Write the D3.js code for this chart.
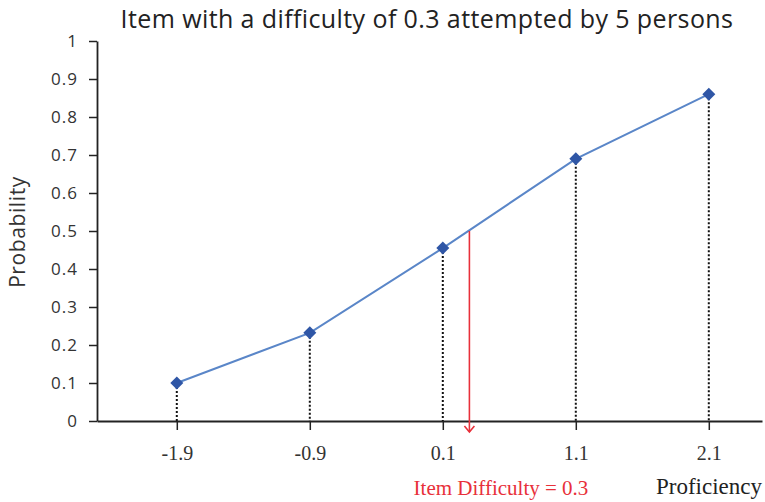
<!DOCTYPE html>
<html><head><meta charset="utf-8">
<script src="https://cdn.jsdelivr.net/npm/d3@7"></script>
<style>body{margin:0;background:#fff}svg{display:block}</style>
</head><body><svg id="c" width="765" height="502"></svg>
<script>
const proficiency = [-1.9, -0.9, 0.1, 1.1, 2.1];
const probability = [0.10, 0.232, 0.455, 0.69, 0.86];
const yTicks = [0,0.1,0.2,0.3,0.4,0.5,0.6,0.7,0.8,0.9,1];
const difficulty = 0.3;
const title = "Item with a difficulty of 0.3 attempted by 5 persons";

const svg = d3.select("#c");
const x = d3.scaleLinear().domain([-2.5, 2.5]).range([97, 762]);
const y = d3.scaleLinear().domain([0, 1]).range([421, 41]);

// y axis
const ya = svg.append("g").attr("transform","translate(97,0)")
  .call(d3.axisLeft(y).tickValues(yTicks).tickFormat(d=>d3.format("")(+d.toFixed(1))).tickSize(8).tickSizeOuter(0));
ya.select(".domain").attr("stroke","#222").attr("stroke-width",1.8);
ya.selectAll(".tick line").attr("stroke","#222").attr("stroke-width",1.5);
ya.selectAll(".tick text").attr("font-family","'Open Sans', sans-serif").attr("font-size",17)
  .attr("letter-spacing",1).attr("fill","#333").attr("x",-19);

// x axis
const xa = svg.append("g").attr("transform","translate(0,421)")
  .call(d3.axisBottom(x).tickValues(proficiency).tickFormat(d=>d.toFixed(1)).tickSize(9).tickSizeOuter(0));
xa.select(".domain").attr("stroke","#222").attr("stroke-width",1.8);
xa.selectAll(".tick line").attr("stroke","#222").attr("stroke-width",1.5);
xa.selectAll(".tick text").attr("font-family","'Liberation Serif', 'Times New Roman', serif").attr("font-size",20)
  .attr("fill","#333").attr("dy",null).attr("y",39);

// dotted drop lines
svg.append("g").selectAll("line").data(proficiency).join("line")
  .attr("x1",d=>x(d)).attr("x2",d=>x(d))
  .attr("y1",(d,i)=>y(probability[i])).attr("y2",y(0))
  .attr("stroke","#111").attr("stroke-width",2).attr("stroke-dasharray","2,2");

// line
const pts = proficiency.map((d,i)=>[d, probability[i]]);
svg.append("path").datum(pts)
  .attr("d", d3.line().x(d=>x(d[0])).y(d=>y(d[1])))
  .attr("fill","none").attr("stroke","#5a86c8").attr("stroke-width",2);

// markers
svg.append("g").selectAll("path").data(pts).join("path")
  .attr("transform",d=>`translate(${x(d[0])},${y(d[1])}) rotate(45)`)
  .attr("d","M-4.6,-4.6H4.6V4.6H-4.6Z")
  .attr("fill","#2f56a6");

// red arrow
const ax = x(difficulty);
const dy = 0.5;
svg.append("line").attr("x1",ax).attr("x2",ax).attr("y1",y(dy)).attr("y2",432)
  .attr("stroke","#e8303a").attr("stroke-width",1.6);
svg.append("path").attr("d",`M${ax-5},${426}L${ax},${432}L${ax+5},${426}`)
  .attr("fill","none").attr("stroke","#e8303a").attr("stroke-width",1.6);

svg.append("text").attr("x",501).attr("y",495).attr("text-anchor","middle")
  .attr("font-family","'Liberation Serif', 'Times New Roman', serif").attr("font-size",21)
  .attr("fill","#e8303a").text("Item Difficulty = "+difficulty);

svg.append("text").attr("x",762).attr("y",494).attr("text-anchor","end")
  .attr("font-family","'Liberation Serif', 'Times New Roman', serif").attr("font-size",23)
  .attr("fill","#222").text("Proficiency");

svg.append("text").attr("transform","translate(25,232) rotate(-90)").attr("text-anchor","middle")
  .attr("font-family","'Open Sans', sans-serif").attr("font-size",21).attr("letter-spacing",0.6)
  .attr("fill","#333").text("Probability");

svg.append("text").attr("x",427).attr("y",28).attr("text-anchor","middle")
  .attr("font-family","'Open Sans', sans-serif").attr("font-size",25).attr("letter-spacing",0.4)
  .attr("fill","#222").text(title);
</script></body></html>
